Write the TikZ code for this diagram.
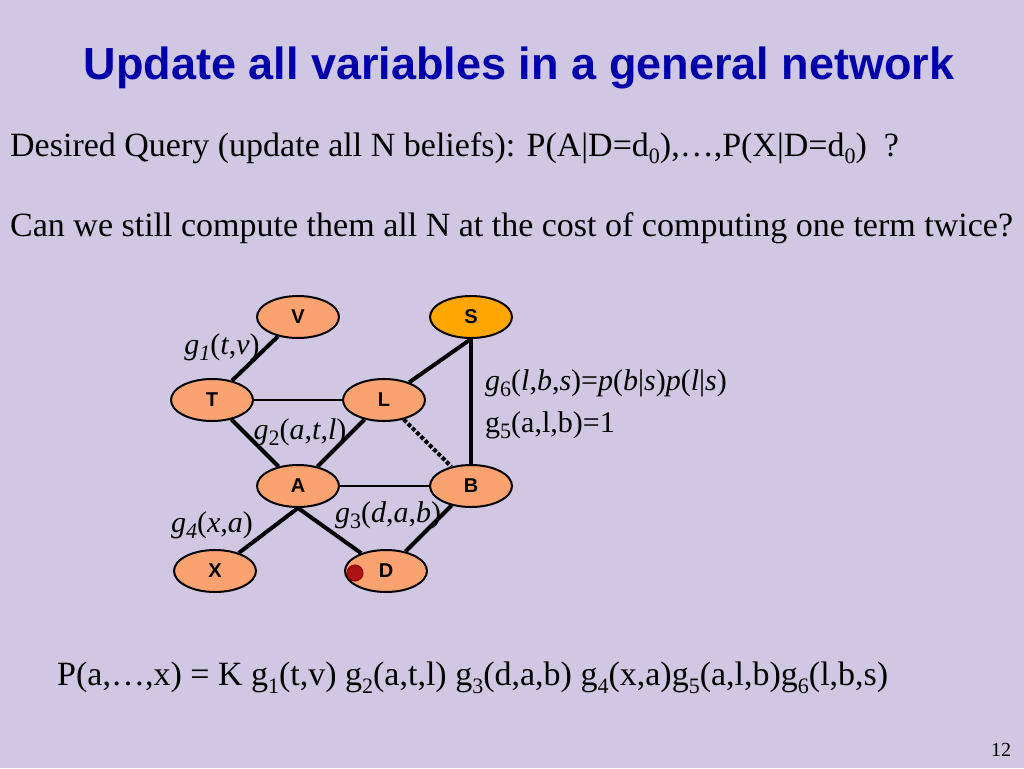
\documentclass[tikz,border=0pt]{standalone}
\usepackage{fontspec}
\setmainfont{Liberation Serif}
\newfontfamily\titlefont{Liberation Sans}
\usetikzlibrary{shapes.geometric}
\definecolor{slidebg}{RGB}{208,200,226}
\definecolor{titleblue}{RGB}{0,0,170}
\definecolor{nodeorange}{RGB}{250,162,112}
\definecolor{queryorange}{RGB}{255,166,0}
\definecolor{evidred}{RGB}{170,20,20}
\newcommand{\lowsub}[1]{\raisebox{-0.22em}{\fontsize{22}{22}\selectfont #1}}
\tikzset{
  var/.style={ellipse, draw, line width=2pt, fill=nodeorange, minimum width=82pt, minimum height=42pt, inner sep=0pt, font=\titlefont\bfseries\fontsize{20}{20}\selectfont},
  link/.style={line width=4pt},
  thinlink/.style={line width=2pt},
  flabel/.style={font=\fontsize{30}{30}\selectfont\itshape, inner sep=1pt},
  bodytext/.style={anchor=west, font=\fontsize{34}{34}\selectfont, inner sep=0pt}
}
\begin{document}
\begin{tikzpicture}[x=1pt, y=-1pt]
\fill[slidebg] (0,0) rectangle (1024,768);
\useasboundingbox (0,0) rectangle (1024,768);

\node[text=titleblue, font=\titlefont\bfseries\fontsize{45}{45}\selectfont] (title) at (519,68) {Update all variables in a general network};
\node[bodytext] (query) at (10,148) {Desired Query (update all N beliefs): P(A|D=d\lowsub{0}),\dots,P(X|D=d\lowsub{0})\ \ ?};
\node[bodytext] (cost) at (10,228) {Can we still compute them all N at the cost of computing one term twice?};

% network
\node[var] (V) at (298,317) {V};
\node[var, fill=queryorange] (S) at (471,317) {S};
\node[var] (T) at (212,400) {T};
\node[var] (L) at (384,400) {L};
\node[var] (A) at (298,486) {A};
\node[var] (B) at (471,486) {B};
\node[var] (X) at (215,571) {X};
\node[var] (D) at (386,571) {D};
\fill[evidred, draw=red!60!black, line width=1pt] (355,573) circle (8pt);

\draw[link] (V) -- (T);
\draw[thinlink] (T) -- (L);
\draw[link] (T) -- (A);
\draw[link] (L) -- (A);
\draw[link] (L) -- (S.south);
\draw[link] (S.south) -- (B);
\draw[thinlink] (A) -- (B);
\draw[line width=4pt, dotted] (L) -- (B);
\draw[link] (A.south) -- (X);
\draw[link] (A.south) -- (D);
\draw[link] (D) -- (B);

\node[flabel] (g1) at (222,347) {g\lowsub{1}\upshape(\itshape t\upshape,\itshape v\upshape)};
\node[flabel] (g2) at (300,432) {g\lowsub{\upshape 2}\upshape(\itshape a\upshape,\itshape t\upshape,\itshape l\upshape)};
\node[flabel] (g3) at (388,515) {g\lowsub{\upshape 3}\upshape(\itshape d\upshape,\itshape a\upshape,\itshape b\upshape)};
\node[flabel] (g4) at (212,525) {g\lowsub{4}\upshape(\itshape x\upshape,\itshape a\upshape)};
\node[flabel, anchor=west, inner sep=0pt] (g6) at (485,383) {g\lowsub{\upshape 6}\upshape(\itshape l\upshape,\itshape b\upshape,\itshape s\upshape)=\itshape p\upshape(\itshape b\upshape|\itshape s\upshape)\itshape p\upshape(\itshape l\upshape|\itshape s\upshape)};
\node[flabel, anchor=west, inner sep=0pt] (g5) at (485,425) {\upshape g\lowsub{5}(a,l,b)=1};

\node[bodytext] (joint) at (57,678) {P(a,\dots,x) = K g\lowsub{1}(t,v) g\lowsub{2}(a,t,l) g\lowsub{3}(d,a,b) g\lowsub{4}(x,a)g\lowsub{5}(a,l,b)g\lowsub{6}(l,b,s)};
\node[font=\fontsize{20}{20}\selectfont] (page) at (1001,750) {12};
\end{tikzpicture}
\end{document}
